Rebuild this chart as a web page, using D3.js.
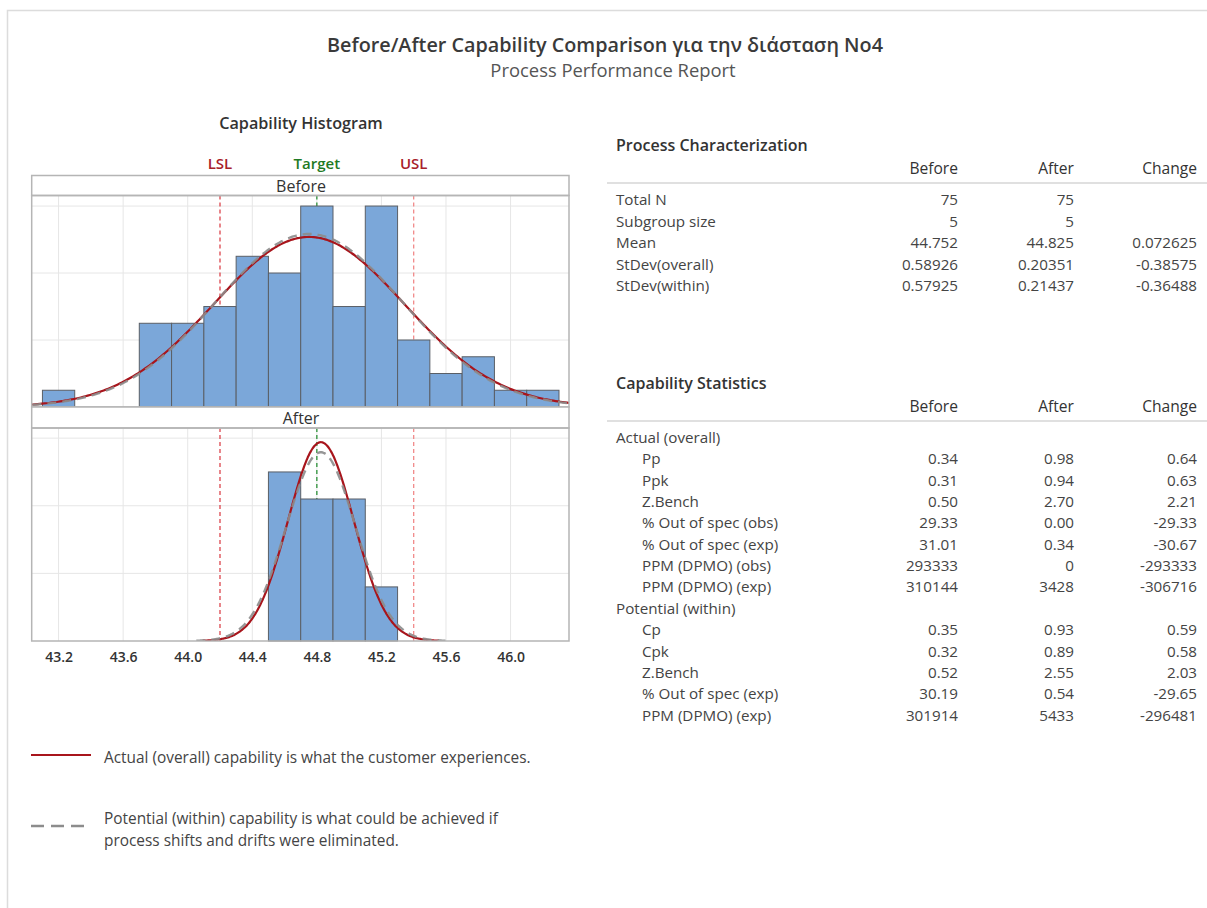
<!DOCTYPE html>
<html>
<head>
<meta charset="utf-8">
<script src="https://cdn.jsdelivr.net/npm/d3@7/dist/d3.min.js"></script>
<style>
  html, body { margin: 0; padding: 0; background: #fff; }
  svg text { font-family: "Open Sans", "Noto Sans", "DejaVu Sans", sans-serif; }
</style>
</head>
<body>
<svg id="chart" width="1207" height="908"></svg>
<script>
// ---- Data ----------------------------------------------------------------
const binLower = [43.1, 43.3, 43.5, 43.7, 43.9, 44.1, 44.3, 44.5, 44.7, 44.9, 45.1, 45.3, 45.5, 45.7, 45.9, 46.1];
const binWidth = 0.2;
const beforeCounts = [1, 0, 0, 5, 5, 6, 9, 8, 12, 6, 12, 4, 2, 3, 1, 1];
const afterCounts  = [0, 0, 0, 0, 0, 0, 0, 25, 21, 21, 8, 0, 0, 0, 0, 0];

const xTicks = [43.2, 43.6, 44.0, 44.4, 44.8, 45.2, 45.6, 46.0];
const beforeYTicks = [0, 4, 8, 12];
const afterYTicks = [0, 10, 20, 30];

const specNames = ["LSL", "Target", "USL"];
const specValues = [44.2, 44.8, 45.4];

const phases = ["Before", "After"];
const totalN = [75, 75];
const means = [44.752, 44.825];
const sdOverall = [0.58926, 0.20351];
const sdWithin = [0.57925, 0.21437];

const tableColumns = ["Before", "After", "Change"];
const charRows = [
  ["Total N", "75", "75", ""],
  ["Subgroup size", "5", "5", ""],
  ["Mean", "44.752", "44.825", "0.072625"],
  ["StDev(overall)", "0.58926", "0.20351", "-0.38575"],
  ["StDev(within)", "0.57925", "0.21437", "-0.36488"]
];
const capRows = [
  ["Actual (overall)", "", "", "", 0],
  ["Pp", "0.34", "0.98", "0.64", 1],
  ["Ppk", "0.31", "0.94", "0.63", 1],
  ["Z.Bench", "0.50", "2.70", "2.21", 1],
  ["% Out of spec (obs)", "29.33", "0.00", "-29.33", 1],
  ["% Out of spec (exp)", "31.01", "0.34", "-30.67", 1],
  ["PPM (DPMO) (obs)", "293333", "0", "-293333", 1],
  ["PPM (DPMO) (exp)", "310144", "3428", "-306716", 1],
  ["Potential (within)", "", "", "", 0],
  ["Cp", "0.35", "0.93", "0.59", 1],
  ["Cpk", "0.32", "0.89", "0.58", 1],
  ["Z.Bench", "0.52", "2.55", "2.03", 1],
  ["% Out of spec (exp)", "30.19", "0.54", "-29.65", 1],
  ["PPM (DPMO) (exp)", "301914", "5433", "-296481", 1]
];

// ---- Layout ----------------------------------------------------------------
const svg = d3.select("#chart");
const textDark = "#333";
const bodySize = 15.2;

// outer frame
svg.append("path")
  .attr("d", "M7.5,908 V10.5 H1207")
  .attr("fill", "none").attr("stroke", "#dcdcdc").attr("stroke-width", 1.5);

svg.append("text").attr("x", 605).attr("y", 52).attr("text-anchor", "middle")
  .attr("font-size", 19.8).attr("font-weight", 600).attr("fill", "#3a3a3a")
  .text("Before/After Capability Comparison για την διάσταση No4");
svg.append("text").attr("x", 613).attr("y", 77).attr("text-anchor", "middle")
  .attr("font-size", 18.4).attr("fill", "#555")
  .text("Process Performance Report");

// ---- Histogram panels -----------------------------------------------------
const plotLeft = 31.7, plotRight = 569;
const x = d3.scaleLinear().domain([43.0335, 46.362]).range([plotLeft, plotRight]);

svg.append("text").attr("x", 301).attr("y", 129).attr("text-anchor", "middle")
  .attr("font-size", 16.2).attr("font-weight", 600).attr("fill", textDark)
  .text("Capability Histogram");

const specColors = ["#a8202a", "#1f7a25", "#a8202a"];
svg.selectAll("text.spec").data(specNames).join("text")
  .attr("class", "spec")
  .attr("x", (d, i) => x(specValues[i]))
  .attr("y", 169).attr("text-anchor", "middle")
  .attr("font-size", 15).attr("font-weight", 600)
  .attr("fill", (d, i) => specColors[i])
  .text(d => d);

const panels = [
  { name: phases[0], counts: beforeCounts, ticks: beforeYTicks, yMax: 12.63, stripTop: 175.5, top: 195.5, bottom: 407 },
  { name: phases[1], counts: afterCounts,  ticks: afterYTicks,  yMax: 31.5,  stripTop: 407,   top: 428,   bottom: 641 }
];

const normal = (v, m, s) => Math.exp(-0.5 * ((v - m) / s) ** 2) / (s * Math.sqrt(2 * Math.PI));

panels.forEach((p, pi) => {
  const y = d3.scaleLinear().domain([0, p.yMax]).range([p.bottom, p.top]);
  const g = svg.append("g");
  const clipId = "clip" + pi;
  g.append("clipPath").attr("id", clipId).append("rect")
    .attr("x", plotLeft).attr("y", p.top).attr("width", plotRight - plotLeft).attr("height", p.bottom - p.top);

  // grid
  g.selectAll("line.vg").data(xTicks).join("line")
    .attr("x1", d => x(d)).attr("x2", d => x(d))
    .attr("y1", p.top).attr("y2", p.bottom)
    .attr("stroke", "#e6e6e6").attr("stroke-width", 1);
  g.selectAll("line.hg").data(p.ticks.filter(t => t > 0)).join("line")
    .attr("x1", plotLeft).attr("x2", plotRight)
    .attr("y1", d => y(d)).attr("y2", d => y(d))
    .attr("stroke", "#e6e6e6").attr("stroke-width", 1);

  // spec limit and target lines (behind the bars)
  g.selectAll("line.spec").data(specValues).join("line")
    .attr("x1", d => x(d)).attr("x2", d => x(d))
    .attr("y1", p.top).attr("y2", p.bottom)
    .attr("stroke", (d, i) => i === 1 ? "#1c8a2a" : (i === 0 ? "#d9363e" : "#f08080"))
    .attr("stroke-width", 1.2)
    .attr("stroke-dasharray", "4,3");

  // bars
  const bins = binLower.map((lo, i) => ({ lo, hi: lo + binWidth, n: p.counts[i] })).filter(b => b.n > 0);
  g.selectAll("rect.bar").data(bins).join("rect")
    .attr("x", d => x(d.lo)).attr("width", d => x(d.hi) - x(d.lo))
    .attr("y", d => y(d.n)).attr("height", d => y(0) - y(d.n))
    .attr("fill", "#7ba7d9").attr("stroke", "#5a5f66").attr("stroke-width", 1);

  // fitted normal curves, scaled to counts
  const scale = totalN[pi] * binWidth;
  const curve = (sd) => {
    const lo = means[pi] - 3.6 * sd, hi = means[pi] + 3.6 * sd;
    return d3.range(0, 301).map(k => {
      const v = lo + (hi - lo) * k / 300;
      return [v, scale * normal(v, means[pi], sd)];
    });
  };
  const line = d3.line().x(d => x(d[0])).y(d => y(d[1])).curve(d3.curveBasis);
  const cg = g.append("g").attr("clip-path", `url(#${clipId})`);
  cg.append("path").datum(curve(sdOverall[pi])).attr("d", line)
    .attr("fill", "none").attr("stroke", "#a8151c").attr("stroke-width", 2.2);
  cg.append("path").datum(curve(sdWithin[pi])).attr("d", line)
    .attr("fill", "none").attr("stroke", "#8c8c8c").attr("stroke-width", 2.4)
    .attr("stroke-dasharray", "9,6").attr("opacity", 0.9);

  // strip with panel label
  g.append("rect").attr("x", plotLeft).attr("y", p.stripTop)
    .attr("width", plotRight - plotLeft).attr("height", p.top - p.stripTop)
    .attr("fill", "#fff").attr("stroke", "#b5b5b5").attr("stroke-width", 1.5);
  g.append("text").attr("x", 301).attr("y", p.top - 4).attr("text-anchor", "middle")
    .attr("font-size", 16).attr("fill", textDark).text(p.name);

  // panel frame
  g.append("rect").attr("x", plotLeft).attr("y", p.top)
    .attr("width", plotRight - plotLeft).attr("height", p.bottom - p.top)
    .attr("fill", "none").attr("stroke", "#b5b5b5").attr("stroke-width", 1.5);
});

// x axis under the lower panel
const xAxis = d3.axisBottom(x).tickValues(xTicks).tickFormat(d3.format(".1f")).tickSize(0).tickPadding(11);
const ax = svg.append("g").attr("transform", `translate(0,${panels[1].bottom})`).call(xAxis);
ax.select(".domain").remove();
ax.selectAll("text").attr("font-size", 14).attr("font-weight", 600).attr("fill", textDark)
  .attr("font-family", "'Open Sans', 'Noto Sans', sans-serif");

// ---- Legend ---------------------------------------------------------------
svg.append("line").attr("x1", 31).attr("x2", 91).attr("y1", 755).attr("y2", 755)
  .attr("stroke", "#a8151c").attr("stroke-width", 2.2);
svg.append("text").attr("x", 104).attr("y", 763).attr("font-size", 15.4).attr("fill", "#444")
  .text("Actual (overall) capability is what the customer experiences.");
svg.append("line").attr("x1", 31).attr("x2", 91).attr("y1", 826).attr("y2", 826)
  .attr("stroke", "#8c8c8c").attr("stroke-width", 2.4).attr("stroke-dasharray", "13,7");
svg.append("text").attr("x", 104).attr("y", 824).attr("font-size", 15.4).attr("fill", "#444")
  .text("Potential (within) capability is what could be achieved if");
svg.append("text").attr("x", 104).attr("y", 846).attr("font-size", 15.4).attr("fill", "#444")
  .text("process shifts and drifts were eliminated.");

// ---- Tables ---------------------------------------------------------------
const colRight = [958, 1074, 1197];

function drawTable(title, titleY, rows, firstRowY, rowStep) {
  const t = svg.append("g");
  t.append("text").attr("x", 616).attr("y", titleY).attr("font-size", 16)
    .attr("font-weight", 600).attr("fill", textDark).text(title);
  t.selectAll("text.hdr").data(tableColumns).join("text")
    .attr("x", (d, i) => colRight[i]).attr("y", titleY + 23).attr("text-anchor", "end")
    .attr("font-size", 15.6).attr("fill", textDark).text(d => d);
  t.append("line").attr("x1", 607).attr("x2", 1207).attr("y1", titleY + 32).attr("y2", titleY + 32)
    .attr("stroke", "#d6d6d6").attr("stroke-width", 1.5);
  rows.forEach((r, i) => {
    const yy = firstRowY + i * rowStep;
    const indent = r.length > 4 && r[4] === 1 ? 26 : 0;
    t.append("text").attr("x", 616 + indent).attr("y", yy).attr("font-size", bodySize)
      .attr("fill", "#444").text(r[0]);
    [1, 2, 3].forEach(c => {
      if (r[c] !== "") {
        t.append("text").attr("x", colRight[c - 1]).attr("y", yy).attr("text-anchor", "end")
          .attr("font-size", bodySize).attr("fill", "#444").text(r[c]);
      }
    });
  });
}

drawTable("Process Characterization", 151, charRows, 205, 21.5);
drawTable("Capability Statistics", 389, capRows, 443, 21.35);
</script>
</body>
</html>
